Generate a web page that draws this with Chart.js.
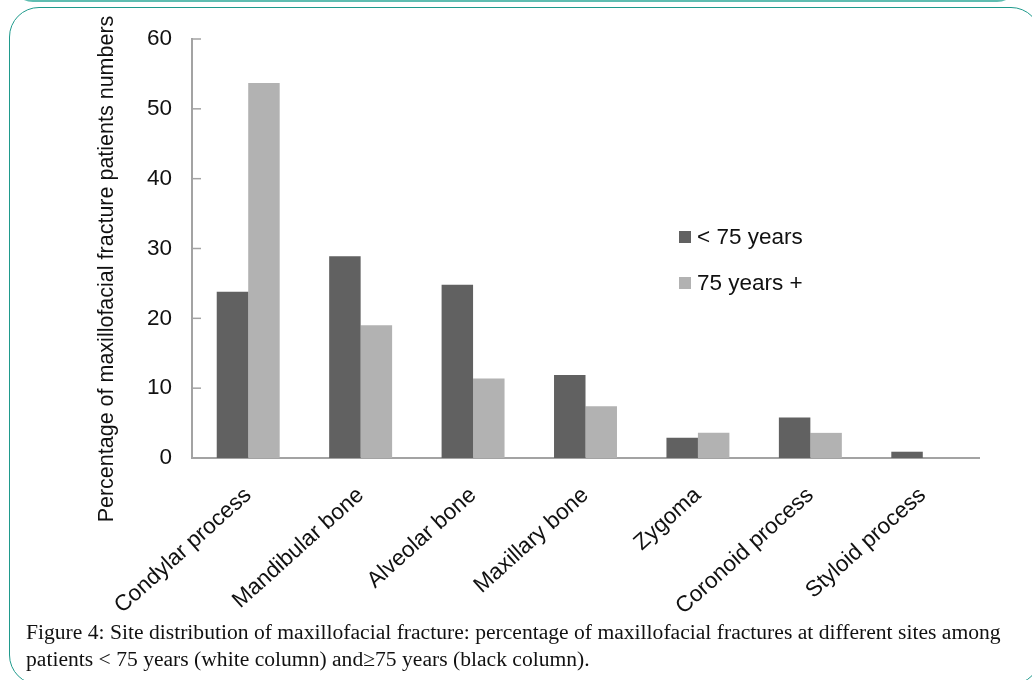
<!DOCTYPE html>
<html>
<head>
<meta charset="utf-8">
<script src="https://cdn.jsdelivr.net/npm/chart.js@4.4.1/dist/chart.umd.min.js"></script>
<style>
  html, body { margin: 0; padding: 0; background: #fff; width: 1032px; height: 680px; overflow: hidden; }
  #wrap { position: relative; width: 1032px; height: 680px; }
  #chart { position: absolute; left: 0; top: 0; }
  .prev-box { position: absolute; left: 12px; top: -40px; width: 1006px; height: 42px; border: 2px solid #5fbdb1; border-radius: 28px; box-sizing: border-box; }
  .fig-box { position: absolute; left: 9px; top: 7px; width: 1032px; height: 678px; border: 1.5px solid #1f9a8c; border-radius: 30px; box-sizing: border-box; }
  .caption { position: absolute; left: 26px; top: 619px; font-family: "Liberation Serif", "Times New Roman", serif; font-size: 21.6px; line-height: 27px; color: #111; white-space: nowrap; }
</style>
</head>
<body>
<div id="wrap">
  <canvas id="chart" width="1032" height="680"></canvas>
  <div class="prev-box"></div>
  <div class="fig-box"></div>
  <div class="caption">Figure 4: Site distribution of maxillofacial fracture: percentage of maxillofacial fractures at different sites among<br>patients &lt; 75 years (white column) and≥75 years (black column).</div>
</div>
<script>
// Fracture sites along the x axis
const categories = ['Condylar process', 'Mandibular bone', 'Alveolar bone', 'Maxillary bone', 'Zygoma', 'Coronoid process', 'Styloid process'];
// Percentage of patients per site, by age group
const under75 = [23.8, 28.9, 24.8, 11.9, 2.9, 5.8, 0.9];
const over75 = [53.7, 19.0, 11.4, 7.4, 3.6, 3.6, 0];
const seriesLabels = ['< 75 years', '75 years +'];
const yTickValues = [0, 10, 20, 30, 40, 50, 60];
const yTitle = 'Percentage of maxillofacial fracture patients numbers';

const FONT = '"Liberation Sans", Arial, sans-serif';
const AXIS_COLOR = '#a3a3a3';

// Short tick marks pointing into the plot area on the value axis
const innerTicks = {
  id: 'innerTicks',
  afterDatasetsDraw(chart) {
    const y = chart.scales.y;
    const { ctx, chartArea } = chart;
    ctx.save();
    ctx.strokeStyle = AXIS_COLOR;
    ctx.lineWidth = 1.5;
    y.ticks.forEach(t => {
      const py = y.getPixelForValue(t.value);
      ctx.beginPath();
      ctx.moveTo(chartArea.left, py);
      ctx.lineTo(chartArea.left + 9, py);
      ctx.stroke();
    });
    ctx.restore();
  }
};

// Legend placed inside the plot area, one entry per row
const insideLegend = {
  id: 'insideLegend',
  afterDraw(chart) {
    const { ctx } = chart;
    const x = 679, y0 = 237, gap = 46, box = 12;
    ctx.save();
    ctx.font = '22.5px ' + FONT;
    ctx.textBaseline = 'middle';
    ctx.textAlign = 'left';
    chart.data.datasets.forEach((ds, i) => {
      const cy = y0 + i * gap;
      ctx.fillStyle = ds.backgroundColor;
      ctx.fillRect(x, cy - box / 2, box, box);
      ctx.fillStyle = '#111';
      ctx.fillText(ds.label, x + 18, cy + 1);
    });
    ctx.restore();
  }
};

// Vertical axis title
const axisTitle = {
  id: 'axisTitle',
  afterDraw(chart) {
    const { ctx } = chart;
    ctx.save();
    ctx.translate(107, 269);
    ctx.rotate(-Math.PI / 2);
    ctx.font = '21.5px ' + FONT;
    ctx.fillStyle = '#111';
    ctx.textAlign = 'center';
    ctx.textBaseline = 'middle';
    ctx.fillText(yTitle, 0, 0);
    ctx.restore();
  }
};

new Chart(document.getElementById('chart'), {
  type: 'bar',
  data: {
    labels: categories,
    datasets: [
      { label: seriesLabels[0], data: under75, backgroundColor: '#616161', categoryPercentage: 0.56, barPercentage: 1.0 },
      { label: seriesLabels[1], data: over75, backgroundColor: '#b2b2b2', categoryPercentage: 0.56, barPercentage: 1.0 }
    ]
  },
  options: {
    responsive: false,
    animation: false,
    layout: { padding: { left: 0, top: 39, right: 53, bottom: 22 } },
    plugins: { legend: { display: false }, tooltip: { enabled: false } },
    scales: {
      x: {
        grid: { display: false, drawTicks: false },
        border: { display: true, color: AXIS_COLOR, width: 2 },
        ticks: { minRotation: 42, maxRotation: 42, autoSkip: false, padding: 24, color: '#111', font: { family: FONT, size: 22.5 } },
        afterFit(scale) { scale.height = 200; }
      },
      y: {
        min: 0,
        max: 60,
        grid: { display: false, drawTicks: false },
        border: { display: true, color: AXIS_COLOR, width: 2 },
        ticks: { stepSize: 10, padding: 20, color: '#111', font: { family: FONT, size: 22.5 } },
        afterBuildTicks(scale) { scale.ticks = yTickValues.map(v => ({ value: v })); },
        afterFit(scale) { scale.width = 192; }
      }
    }
  },
  plugins: [innerTicks, insideLegend, axisTitle]
});
</script>
</body>
</html>
